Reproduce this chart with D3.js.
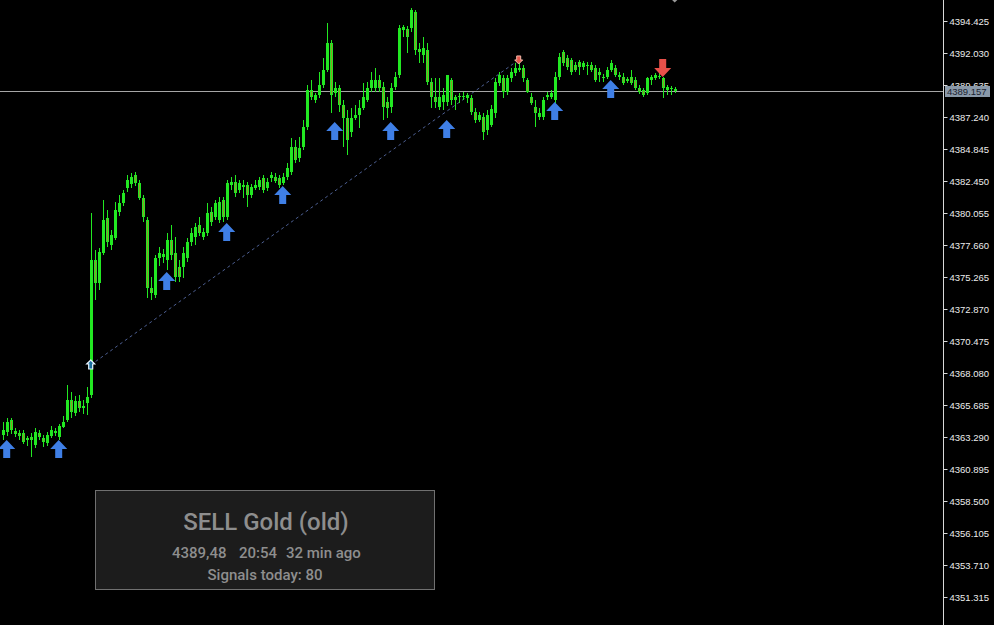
<!DOCTYPE html>
<html>
<head>
<meta charset="utf-8">
<script src="https://cdn.jsdelivr.net/npm/d3@7"></script>
<style>
body { margin: 0; background: #000; overflow: hidden; }
svg { display: block; }
</style>
</head>
<body>
<svg id="chart" width="994" height="625"></svg>
<script>
// M1 candles, oldest first
var opens = [
  4363.44, 4363.67, 4364.57, 4363.74, 4363.59, 4363.59, 4363.07, 4363.29, 4362.70, 4363.59,
  4363.22, 4362.85, 4363.37, 4363.74, 4363.29, 4364.04, 4364.57, 4366.06, 4365.09, 4365.99,
  4365.47, 4365.84, 4366.44, 4376.54, 4374.82, 4377.07, 4379.68, 4377.66, 4378.19, 4380.13,
  4380.81, 4381.93, 4382.23, 4382.90, 4382.30, 4381.18, 4379.54, 4374.45, 4373.92, 4376.69,
  4376.77, 4376.54, 4378.04, 4377.07, 4376.02, 4376.02, 4376.69, 4377.89, 4378.26, 4379.16,
  4378.26, 4378.56, 4380.13, 4379.76, 4379.54, 4381.03, 4379.76, 4382.15, 4382.38, 4381.78,
  4382.15, 4382.15, 4381.41, 4381.93, 4382.00, 4382.68, 4381.93, 4382.68, 4382.75, 4382.68,
  4382.30, 4382.75, 4383.13, 4385.00, 4384.18, 4385.00, 4386.50, 4389.26, 4388.52, 4388.89,
  4389.64, 4390.76, 4392.78, 4389.04, 4389.41, 4388.14, 4387.17, 4386.12, 4387.17, 4387.39,
  4387.92, 4388.52, 4389.41, 4389.41, 4390.01, 4389.49, 4388.37, 4387.99, 4389.49, 4390.39,
  4393.75, 4393.83, 4393.90, 4395.10, 4392.33, 4391.88, 4392.26, 4389.86, 4388.74, 4387.99,
  4388.37, 4388.37, 4390.01, 4388.52, 4388.74, 4388.74, 4388.67, 4388.67, 4387.62, 4387.02,
  4387.24, 4386.27, 4386.64, 4387.54, 4389.79, 4390.16, 4389.11, 4390.16, 4390.54, 4390.76,
  4390.91, 4390.01, 4388.74, 4387.99, 4387.24, 4387.24, 4388.74, 4388.74, 4388.52, 4390.24,
  4392.11, 4391.66, 4391.51, 4391.14, 4391.36, 4390.99, 4391.14, 4391.14, 4390.91, 4390.61,
  4390.24, 4390.24, 4390.76, 4390.91, 4390.39, 4390.24, 4390.09, 4390.24, 4390.01, 4389.41,
  4389.26, 4389.04, 4390.01, 4390.16, 4390.31, 4390.16, 4389.26, 4389.41, 4389.34
];
var highs = [
  4364.42, 4364.72, 4364.72, 4363.97, 4363.82, 4363.82, 4363.37, 4363.59, 4363.97, 4363.82,
  4363.44, 4363.67, 4364.12, 4363.97, 4364.27, 4364.87, 4367.19, 4366.66, 4366.36, 4366.44,
  4366.06, 4367.04, 4380.06, 4377.29, 4377.44, 4381.03, 4380.28, 4378.79, 4380.88, 4381.41,
  4381.78, 4382.90, 4383.05, 4383.13, 4382.53, 4381.41, 4379.76, 4375.27, 4376.92, 4377.51,
  4377.36, 4378.56, 4379.16, 4378.26, 4376.54, 4377.51, 4378.19, 4378.94, 4379.31, 4379.76,
  4378.94, 4380.81, 4380.51, 4381.03, 4381.26, 4381.26, 4382.53, 4382.75, 4382.90, 4382.53,
  4382.53, 4382.38, 4382.23, 4382.53, 4382.75, 4382.90, 4382.68, 4383.13, 4383.05, 4382.90,
  4383.05, 4383.80, 4385.67, 4385.52, 4385.75, 4387.02, 4389.64, 4390.01, 4389.04, 4390.61,
  4391.66, 4394.28, 4393.01, 4389.86, 4389.64, 4388.52, 4387.77, 4387.92, 4388.14, 4388.52,
  4389.79, 4389.86, 4390.61, 4390.91, 4390.39, 4389.86, 4388.74, 4389.79, 4390.61, 4394.13,
  4394.13, 4394.05, 4395.40, 4395.25, 4392.78, 4393.23, 4392.78, 4390.16, 4390.16, 4390.16,
  4389.41, 4390.39, 4390.16, 4388.89, 4389.04, 4389.11, 4389.04, 4388.89, 4387.92, 4387.62,
  4387.54, 4387.77, 4388.14, 4390.16, 4390.61, 4390.39, 4390.39, 4390.91, 4391.29, 4391.36,
  4391.14, 4390.16, 4389.04, 4388.52, 4387.92, 4388.74, 4389.11, 4389.26, 4390.61, 4392.03,
  4392.26, 4391.88, 4391.66, 4391.36, 4391.51, 4391.43, 4391.36, 4391.36, 4391.14, 4390.91,
  4390.46, 4390.99, 4391.51, 4391.14, 4390.61, 4390.54, 4390.24, 4390.76, 4390.24, 4389.64,
  4389.41, 4390.24, 4390.39, 4390.54, 4390.61, 4390.24, 4389.64, 4389.56, 4389.49
];
var lows = [
  4363.07, 4363.37, 4363.52, 4363.29, 4363.07, 4362.77, 4362.62, 4361.80, 4362.47, 4363.07,
  4362.55, 4362.62, 4363.22, 4363.37, 4363.07, 4363.97, 4364.42, 4364.72, 4364.87, 4365.17,
  4365.02, 4364.94, 4366.21, 4373.55, 4374.30, 4376.92, 4377.51, 4377.29, 4378.04, 4379.83,
  4380.58, 4381.63, 4381.93, 4382.08, 4381.03, 4379.39, 4373.70, 4373.55, 4373.70, 4376.09,
  4376.32, 4375.79, 4376.54, 4374.89, 4374.89, 4375.19, 4376.39, 4377.59, 4377.66, 4378.34,
  4378.04, 4378.34, 4379.09, 4379.54, 4379.31, 4379.39, 4379.54, 4381.78, 4381.26, 4381.56,
  4381.18, 4380.51, 4381.18, 4381.78, 4381.78, 4381.56, 4381.71, 4382.38, 4382.30, 4381.93,
  4382.15, 4382.53, 4382.90, 4383.80, 4383.88, 4384.77, 4386.27, 4388.52, 4388.29, 4388.67,
  4389.41, 4390.61, 4387.54, 4388.74, 4387.62, 4385.00, 4384.40, 4385.75, 4387.02, 4386.42,
  4387.77, 4388.37, 4389.11, 4389.11, 4389.11, 4387.02, 4387.17, 4387.54, 4389.26, 4390.16,
  4393.23, 4392.03, 4393.61, 4391.88, 4391.29, 4391.29, 4389.64, 4387.92, 4387.92, 4387.77,
  4387.77, 4388.07, 4388.14, 4387.77, 4388.29, 4388.52, 4388.29, 4387.39, 4386.79, 4386.87,
  4385.52, 4385.90, 4386.50, 4387.17, 4389.56, 4388.67, 4388.89, 4389.86, 4390.31, 4390.61,
  4389.86, 4389.04, 4388.14, 4386.50, 4387.02, 4387.02, 4388.52, 4388.59, 4388.29, 4390.01,
  4391.06, 4390.76, 4390.39, 4390.61, 4390.39, 4390.76, 4390.39, 4390.61, 4389.86, 4389.86,
  4389.86, 4390.09, 4390.61, 4390.24, 4390.01, 4389.64, 4389.79, 4389.64, 4389.26, 4388.97,
  4388.74, 4388.89, 4389.64, 4390.01, 4390.09, 4388.67, 4388.89, 4388.89, 4389.04
];
var closes = [
  4363.82, 4364.42, 4363.82, 4363.52, 4363.37, 4362.92, 4363.22, 4363.07, 4363.67, 4363.29,
  4362.92, 4363.44, 4363.82, 4363.59, 4364.12, 4364.42, 4366.06, 4365.17, 4365.99, 4365.47,
  4365.61, 4366.29, 4376.54, 4374.82, 4377.14, 4379.54, 4377.89, 4378.41, 4380.28, 4380.81,
  4381.56, 4382.53, 4382.75, 4382.30, 4381.18, 4379.76, 4374.45, 4374.07, 4376.69, 4377.07,
  4376.99, 4378.04, 4376.92, 4375.27, 4375.27, 4377.07, 4377.89, 4378.56, 4379.01, 4378.56,
  4378.64, 4380.06, 4379.39, 4380.81, 4380.88, 4379.76, 4382.30, 4382.38, 4381.56, 4382.30,
  4382.00, 4381.41, 4382.00, 4382.15, 4382.53, 4381.78, 4382.38, 4382.90, 4382.45, 4382.15,
  4382.75, 4383.43, 4385.00, 4384.03, 4384.92, 4386.50, 4389.26, 4388.74, 4388.89, 4389.64,
  4390.76, 4392.78, 4388.89, 4389.41, 4388.14, 4387.17, 4385.52, 4387.17, 4387.39, 4387.92,
  4388.74, 4389.41, 4390.01, 4390.01, 4389.41, 4387.99, 4387.92, 4389.41, 4390.24, 4393.90,
  4393.98, 4393.23, 4395.25, 4392.26, 4392.11, 4392.41, 4389.86, 4388.74, 4388.37, 4388.74,
  4388.89, 4390.39, 4388.52, 4388.74, 4388.82, 4388.82, 4388.89, 4387.62, 4387.02, 4387.39,
  4386.12, 4387.39, 4387.84, 4389.86, 4390.39, 4389.11, 4390.16, 4390.61, 4390.91, 4390.91,
  4390.16, 4389.11, 4388.29, 4387.54, 4387.54, 4388.52, 4388.89, 4389.04, 4390.24, 4391.73,
  4391.29, 4390.99, 4390.61, 4390.76, 4390.99, 4391.29, 4391.06, 4390.76, 4390.01, 4390.39,
  4390.16, 4390.76, 4391.29, 4390.39, 4390.24, 4389.79, 4389.94, 4389.79, 4389.41, 4389.11,
  4388.89, 4390.16, 4390.24, 4390.39, 4390.24, 4389.41, 4389.49, 4389.34, 4389.16
];

var priceTicks = [4394.425, 4392.030, 4389.635, 4387.240, 4384.845, 4382.450, 4380.055,
  4377.660, 4375.265, 4372.870, 4370.475, 4368.080, 4365.685, 4363.290, 4360.895,
  4358.500, 4356.105, 4353.710, 4351.315];
var lastPrice = 4389.157;

// signal arrows (candle index, price at arrow tip)
var buyIdx = [1, 14, 41, 56, 70, 83, 97, 111, 138, 152];
var buyPrice = [4363.07, 4363.07, 4375.64, 4379.31, 4382.08, 4386.87, 4386.87, 4387.02, 4388.37, 4390.01];
var sellIdx = [165];
var sellPrice = [4390.24];

// trade markers
var entryIdx = 22, entryPrice = 4368.68;
var exitIdx = 129, exitPrice = 4391.51;
var pendingIdx = 168, pendingPrice = 4396.10;

var infoTitle = "SELL Gold (old)";
var infoDetail = ["4389,48", "20:54", "32 min ago"];
var infoCount = "Signals today: 80";

var svg = d3.select("#chart");
var axisX = 943;

svg.append("rect").attr("width", 994).attr("height", 625).attr("fill", "#000");

var x = d3.scaleLinear().domain([0, closes.length - 1]).range([2.7, 674.7]);
var y = d3.scaleLinear().domain([4351.315, 4394.425]).range([597, 21]);

var bull = "#22e822", bear = "#8e9a26";

// dashed trade line
svg.append("line")
  .attr("x1", x(entryIdx)).attr("y1", y(entryPrice))
  .attr("x2", x(exitIdx)).attr("y2", y(exitPrice))
  .attr("stroke", "#4d5f92").attr("stroke-width", 1)
  .attr("stroke-dasharray", "3,3");

// current price line
svg.append("line")
  .attr("x1", 0).attr("x2", axisX)
  .attr("y1", Math.round(y(lastPrice)) + 0.5).attr("y2", Math.round(y(lastPrice)) + 0.5)
  .attr("stroke", "#a6a6a6").attr("stroke-width", 1);

var candles = svg.append("g").attr("shape-rendering", "crispEdges");
d3.range(closes.length).forEach(function (i) {
  var cx = Math.round(x(i));
  var o = opens[i], c = closes[i];
  candles.append("line")
    .attr("x1", cx + 0.5).attr("x2", cx + 0.5)
    .attr("y1", y(highs[i])).attr("y2", y(lows[i]))
    .attr("stroke", bull).attr("stroke-width", 1);
  var top = y(Math.max(o, c)), h = Math.max(1, Math.abs(y(o) - y(c)));
  candles.append("rect")
    .attr("x", cx - 1).attr("y", top).attr("width", 3).attr("height", h)
    .attr("fill", bull);
  if (c < o && h > 2) {
    candles.append("rect")
      .attr("x", cx).attr("y", top + 1).attr("width", 1).attr("height", h - 2)
      .attr("fill", bear);
  }
});

// buy / sell arrows
var upPath = "M0,0 L8.5,9 L3.5,9 L3.5,18 L-3.5,18 L-3.5,9 L-8.5,9 Z";
var downPath = "M0,0 L8.5,-9 L3.5,-9 L3.5,-18 L-3.5,-18 L-3.5,-9 L-8.5,-9 Z";
svg.selectAll(".buy").data(buyIdx).enter().append("path")
  .attr("class", "buy")
  .attr("d", upPath)
  .attr("transform", function (d, k) { return "translate(" + x(d) + "," + y(buyPrice[k]) + ")"; })
  .attr("fill", "#3f7fe6");
svg.selectAll(".sell").data(sellIdx).enter().append("path")
  .attr("class", "sell")
  .attr("d", downPath)
  .attr("transform", function (d, k) { return "translate(" + x(d) + "," + y(sellPrice[k]) + ")"; })
  .attr("fill", "#e8504a");

// small trade markers
svg.append("path")
  .attr("d", "M0,-5 L4,-1 L2,-1 L2,4 L-2,4 L-2,-1 L-4,-1 Z")
  .attr("transform", "translate(" + x(entryIdx) + "," + y(entryPrice) + ")")
  .attr("fill", "#1b6e9e").attr("stroke", "#e8f4ff").attr("stroke-width", 1.2);
svg.append("path")
  .attr("d", "M0,4 L4,0 L2,0 L2,-4 L-2,-4 L-2,0 L-4,0 Z")
  .attr("transform", "translate(" + x(exitIdx) + "," + y(exitPrice) + ")")
  .attr("fill", "#e4574c").attr("stroke", "#f4b8a8").attr("stroke-width", 1);
svg.append("path")
  .attr("d", "M0,4 L4,0 L2,0 L2,-4 L-2,-4 L-2,0 L-4,0 Z")
  .attr("transform", "translate(" + x(pendingIdx) + "," + y(pendingPrice) + ")")
  .attr("fill", "#9a9a9a");

// price axis
svg.append("line")
  .attr("x1", axisX + 0.5).attr("x2", axisX + 0.5)
  .attr("y1", 0).attr("y2", 625)
  .attr("stroke", "#d8d8d8").attr("stroke-width", 1);

var axis = svg.append("g")
  .attr("transform", "translate(" + (axisX + 0.5) + ",0)")
  .call(d3.axisRight(y).tickValues(priceTicks).tickFormat(d3.format(".3f")).tickSize(4).tickPadding(2));
axis.select(".domain").remove();
axis.selectAll(".tick line").attr("stroke", "#d8d8d8");
axis.selectAll(".tick text")
  .attr("fill", "#ececec")
  .style("font-family", "'Liberation Sans', Arial, sans-serif")
  .style("font-size", "9.5px");

// last price label, drawn over the tick label it hides
var ly = Math.round(y(lastPrice));
svg.append("rect")
  .attr("x", 945).attr("y", ly - 5).attr("width", 45).attr("height", 11)
  .attr("fill", "#8a99a9");
svg.append("text")
  .attr("x", 947).attr("y", ly + 3.5)
  .attr("fill", "#1b2330")
  .style("font-family", "'Liberation Sans', Arial, sans-serif")
  .style("font-size", "9.5px")
  .text(d3.format(".3f")(lastPrice));

// info panel
var panel = svg.append("g");
panel.append("rect")
  .attr("x", 95.5).attr("y", 490.5).attr("width", 339).attr("height", 99)
  .attr("fill", "#1c1c1c").attr("stroke", "#707070").attr("stroke-width", 1);
panel.append("text")
  .attr("x", 266).attr("y", 530).attr("text-anchor", "middle")
  .attr("fill", "#8e8e8e")
  .style("font-family", "Roboto, 'Noto Sans', sans-serif")
  .style("font-size", "24px").style("font-weight", 500)
  .text(infoTitle);
var detailX = [172, 239, 286];
panel.selectAll(".detail").data(infoDetail).enter().append("text")
  .attr("class", "detail")
  .attr("x", function (d, k) { return detailX[k]; }).attr("y", 558)
  .attr("fill", "#8e8e8e")
  .style("font-family", "Roboto, 'Noto Sans', sans-serif")
  .style("font-size", "15px").style("font-weight", 500)
  .text(function (d) { return d; });
panel.append("text")
  .attr("x", 265).attr("y", 580).attr("text-anchor", "middle")
  .attr("fill", "#8e8e8e")
  .style("font-family", "Roboto, 'Noto Sans', sans-serif")
  .style("font-size", "15px").style("font-weight", 500)
  .text(infoCount);
</script>
</body>
</html>
